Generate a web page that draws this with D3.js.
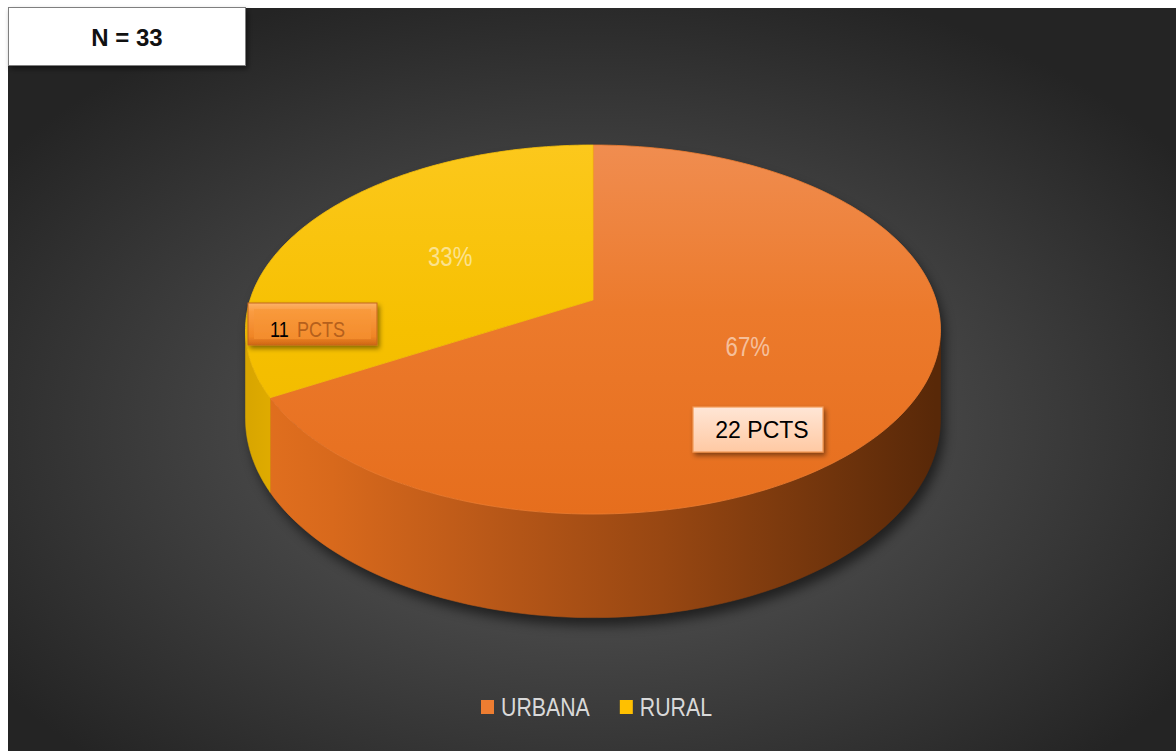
<!DOCTYPE html>
<html>
<head>
<meta charset="utf-8">
<script src="https://cdn.jsdelivr.net/npm/d3@7"></script>
<style>
  body { margin: 0; background: #ffffff; }
  svg { display: block; }
</style>
</head>
<body>
<svg id="chart" width="1176" height="751"></svg>
<script>
// ---- data -------------------------------------------------------------
const categories = ["URBANA", "RURAL"];
const counts = [22, 11];
const countUnit = "PCTS";
const sliceColors = ["#ed7d31", "#ffc000"];

// ---- layout -----------------------------------------------------------
const W = 1176, H = 751;
const svg = d3.select("#chart");
const defs = svg.append("defs");

const total = d3.sum(counts);
const rows = categories.map((c, i) => ({ name: c, value: counts[i], color: sliceColors[i] }));

// 3D pie projection: a tilted disc seen in perspective
const pieGeo = { cx: 593, cy: 300, A: 343, B: 179.8, k: 0.16, depth: 87 };
function proj(theta, f = 1) {
  const u = f * Math.sin(theta), v = -f * Math.cos(theta);
  const w = 1 - pieGeo.k * v;
  return [pieGeo.cx + pieGeo.A * u / w, pieGeo.cy + pieGeo.B * v / w, w];
}
function projBottom(theta) {
  const p = proj(theta);
  return [p[0], p[1] + pieGeo.depth / p[2]];
}
function sampleAngles(a0, a1, n = 120) {
  return d3.range(n + 1).map(i => a0 + (a1 - a0) * i / n);
}

const pie = d3.pie().sort(null).value(d => d.value).startAngle(0).endAngle(2 * Math.PI);
const arcs = pie(rows);
const line = d3.line();

// condensed text: regular sans squeezed horizontally
const SQUEEZE = 0.82;
function narrowText(parent, x, y, size, anchor = "start") {
  return parent.append("text")
    .attr("transform", `translate(${x},${y}) scale(${SQUEEZE},1)`)
    .attr("text-anchor", anchor)
    .attr("font-family", "'Liberation Sans', Arial, sans-serif")
    .attr("font-size", size);
}

// ---- gradients / filters ----------------------------------------------
const bg = defs.append("radialGradient").attr("id", "bgGrad")
  .attr("cx", "50%").attr("cy", "56%").attr("r", "62%");
bg.append("stop").attr("offset", "0%").attr("stop-color", "#5c5c5c");
bg.append("stop").attr("offset", "45%").attr("stop-color", "#464646");
bg.append("stop").attr("offset", "100%").attr("stop-color", "#242424");

function linGrad(id, x1, y1, x2, y2, stops) {
  const g = defs.append("linearGradient").attr("id", id)
    .attr("gradientUnits", "userSpaceOnUse")
    .attr("x1", x1).attr("y1", y1).attr("x2", x2).attr("y2", y2);
  stops.forEach(([o, c]) => g.append("stop").attr("offset", o).attr("stop-color", c));
  return g;
}
const xL = pieGeo.cx - pieGeo.A, xR = pieGeo.cx + pieGeo.A;
const topY = proj(0)[1], botY = proj(Math.PI)[1];
linGrad("topGrad0", 0, topY, 0, botY, [["0", "#f08d50"], ["0.45", "#ec7a2c"], ["1", "#e66e1d"]]);
linGrad("topGrad1", 0, topY, 0, botY, [["0", "#fcc81c"], ["0.5", "#f6c000"], ["1", "#eeb700"]]);
linGrad("sideGrad0", xL, 0, xR, 0, [["0", "#e2701f"], ["0.12", "#d8691c"], ["0.35", "#b95818"], ["0.6", "#984712"], ["0.85", "#70340c"], ["1", "#582808"]]);
linGrad("sideGrad1", xL, 0, xL + 40, 0, [["0", "#d9a600"], ["1", "#e4b000"]]);

const shadow = defs.append("filter").attr("id", "pieShadow")
  .attr("x", "-10%").attr("y", "-10%").attr("width", "120%").attr("height", "130%");
shadow.append("feGaussianBlur").attr("stdDeviation", 6);

const boxShadow = defs.append("filter").attr("id", "boxShadow")
  .attr("x", "-20%").attr("y", "-30%").attr("width", "140%").attr("height", "170%");
boxShadow.append("feDropShadow").attr("dx", 2).attr("dy", 3).attr("stdDeviation", 2.5)
  .attr("flood-color", "#000").attr("flood-opacity", 0.45);

linGrad("bevelOuter", 0, 303, 0, 345, [["0", "#fdb266"], ["0.2", "#fa9c42"], ["0.8", "#f08526"], ["1", "#cf6714"]]);
linGrad("bevelInner", 0, 309, 0, 339, [["0", "#f99a3c"], ["1", "#f38c2c"]]);
linGrad("peachGrad", 0, 407, 0, 452, [["0", "#ffe6d6"], ["1", "#ffc9a3"]]);

// ---- background ---------------------------------------------------------
svg.append("rect").attr("x", 8).attr("y", 8).attr("width", W - 8).attr("height", H - 8)
  .attr("fill", "url(#bgGrad)");

// ---- pie ----------------------------------------------------------------
const plot = svg.append("g");
const silL = Math.acos(-pieGeo.k), silR = 2 * Math.PI - silL;

// soft shadow under the pie body
const frontBottom = sampleAngles(silL, silR, 160).map(projBottom);
plot.append("path")
  .attr("d", line(frontBottom.concat(sampleAngles(silR, silL + 2 * Math.PI, 160).map(t => proj(t)))) + "Z")
  .attr("transform", "translate(4,8)")
  .attr("fill", "#000").attr("opacity", 0.55)
  .attr("filter", "url(#pieShadow)");

// visible side walls
arcs.forEach((a, i) => {
  const s = Math.max(a.startAngle, silL), e = Math.min(a.endAngle, silR);
  if (e <= s) return;
  const angs = sampleAngles(s, e, 100);
  const pts = angs.map(t => proj(t)).concat(angs.slice().reverse().map(projBottom));
  plot.append("path").attr("d", line(pts) + "Z")
    .attr("fill", `url(#sideGrad${i})`)
    .attr("stroke", `url(#sideGrad${i})`).attr("stroke-width", 0.6);
});

// top faces
arcs.forEach((a, i) => {
  const pts = [proj(0, 0)].concat(sampleAngles(a.startAngle, a.endAngle, 160).map(t => proj(t)));
  plot.append("path").attr("d", line(pts) + "Z")
    .attr("fill", `url(#topGrad${i})`)
    .attr("stroke", i === 0 ? "#ee7c30" : "#f6bf0a").attr("stroke-width", 0.8);
});

// percentage labels on the slices
arcs.forEach(a => {
  const mid = (a.startAngle + a.endAngle) / 2;
  const p = proj(mid, 0.5);
  narrowText(plot, p[0], p[1] + 9, 27, "middle")
    .attr("fill", "#ffffff").attr("fill-opacity", 0.55)
    .text(Math.round(a.data.value / total * 100) + "%");
});

// ---- count call-outs ---------------------------------------------------
// RURAL: bevelled orange box
const rural = rows[1];
const rb = svg.append("g").attr("filter", "url(#boxShadow)");
rb.append("rect").attr("x", 248).attr("y", 303).attr("width", 129).attr("height", 42)
  .attr("fill", "url(#bevelOuter)").attr("stroke", "#c4661e").attr("stroke-width", 1);
rb.append("rect").attr("x", 254).attr("y", 309).attr("width", 117).attr("height", 30)
  .attr("fill", "url(#bevelInner)");
const rt = narrowText(svg, 270, 337, 22);
rt.append("tspan").attr("fill", "#000").text(rural.value);
rt.append("tspan").attr("fill", "#b5601c").attr("dx", 10).text(countUnit);

// URBANA: light peach box
const urb = rows[0];
svg.append("rect").attr("x", 693).attr("y", 407).attr("width", 130).attr("height", 45)
  .attr("fill", "url(#peachGrad)").attr("stroke", "#f29a58").attr("stroke-width", 1.2)
  .attr("filter", "url(#boxShadow)");
svg.append("text").attr("x", 762).attr("y", 438)
  .attr("text-anchor", "middle")
  .attr("font-family", "'Liberation Sans', Arial, sans-serif").attr("font-size", 23)
  .attr("fill", "#000").text(`${urb.value} ${countUnit}`);

// ---- total box -----------------------------------------------------------
svg.append("rect").attr("x", 8.5).attr("y", 7.5).attr("width", 237).attr("height", 58)
  .attr("fill", "#ffffff").attr("stroke", "#7f7f7f").attr("stroke-width", 1)
  .attr("filter", "url(#boxShadow)");
svg.append("text").attr("x", 127).attr("y", 46)
  .attr("text-anchor", "middle")
  .attr("font-family", "'Liberation Sans', Arial, sans-serif").attr("font-weight", "bold")
  .attr("font-size", 24).attr("fill", "#111")
  .text(`N = ${total}`);

// ---- legend ----------------------------------------------------------------
const legend = svg.append("g").attr("transform", "translate(481,0)");
let lx = 0;
rows.forEach(r => {
  legend.append("rect").attr("x", lx).attr("y", 700).attr("width", 13).attr("height", 14)
    .attr("fill", r.color);
  const t = narrowText(legend, lx + 20, 716, 26)
    .attr("fill", "#d9d9d9").text(r.name);
  lx += 20 + t.node().getComputedTextLength() * SQUEEZE + 30;
});
</script>
</body>
</html>
